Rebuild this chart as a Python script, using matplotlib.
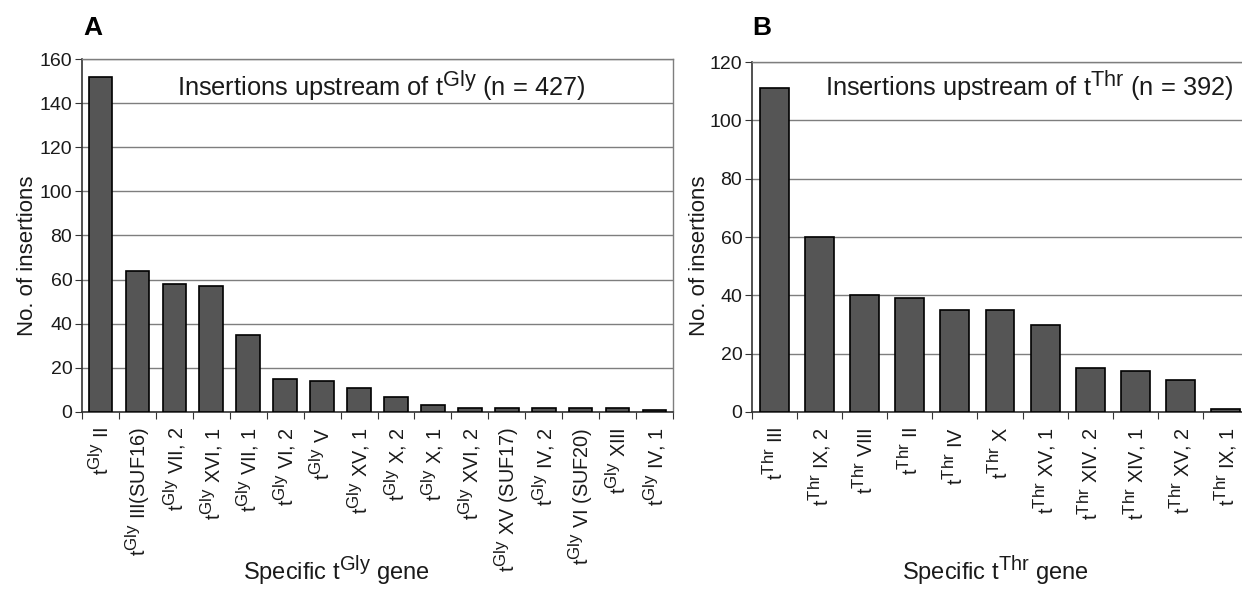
import numpy as np
import matplotlib
matplotlib.use("Agg")
import matplotlib.pyplot as plt
import matplotlib._mathtext as mt

plt.rcParams['font.family'] = ['Liberation Sans', 'DejaVu Sans']
plt.rcParams['mathtext.fontset'] = 'custom'
plt.rcParams['mathtext.rm'] = 'Liberation Sans'
plt.rcParams['mathtext.it'] = 'Liberation Sans'
mt.SHRINK_FACTOR = 0.85   # superscripts in the original are nearly full size

# ---- data ----
gly_genes = ["II", "III(SUF16)", "VII, 2", "XVI, 1", "VII, 1", "VI, 2", "V", "XV, 1",
             "X, 2", "X, 1", "XVI, 2", "XV (SUF17)", "IV, 2", "VI (SUF20)", "XIII", "IV, 1"]
gly_counts = [152, 64, 58, 57, 35, 15, 14, 11, 7, 3, 2, 2, 2, 2, 2, 1]

thr_genes = ["III", "IX, 2", "VIII", "II", "IV", "X", "XV, 1", "XIV. 2", "XIV, 1", "XV, 2", "IX, 1"]
thr_counts = [111, 60, 40, 39, 35, 35, 30, 15, 14, 11, 1]

TXT = "#1a1a1a"
BAR = "#555555"
GRID = "#7e7e7e"

W, H = 1242, 589
fig = plt.figure(figsize=(W / 100, H / 100), dpi=100)


def panel(rect, genes, counts, aa, ymax, ystep, title, tx, ty, right_spine=True):
    ax = fig.add_axes(rect)
    x = np.arange(len(genes))
    ax.bar(x, counts, width=0.64, color=BAR, edgecolor="black", linewidth=1.2, zorder=3)
    ax.set_xlim(-0.5, len(genes) - 0.5)
    ax.set_ylim(0, ymax)
    ax.set_yticks(np.arange(0, ymax + 1, ystep))
    ax.yaxis.grid(True, color=GRID, linewidth=1.0, zorder=0)
    ax.set_axisbelow(True)
    # category ticks sit between the bars (Excel style)
    ax.set_xticks(np.arange(-0.5, len(genes)), minor=False)
    ax.set_xticklabels([])
    ax.set_xticks(x, minor=True)
    ax.set_xticklabels([r"$\mathregular{t^{%s}}$ %s" % (aa, g) for g in genes],
                       minor=True, rotation=90, ha="center", va="top",
                       fontsize=14.3, color=TXT)
    ax.tick_params(axis="x", which="minor", length=0, pad=11)
    ax.tick_params(axis="x", which="major", length=5, direction="out", color="#333333")
    ax.tick_params(axis="y", length=5, direction="out", color="#333333",
                   labelsize=14, labelcolor=TXT, pad=2)
    for s in ("left", "bottom"):
        ax.spines[s].set_color("#333333")
        ax.spines[s].set_linewidth(1.2)
    for s in ("top", "right"):
        ax.spines[s].set_color(GRID)
        ax.spines[s].set_linewidth(1.0)
    ax.spines["right"].set_visible(right_spine)
    ax.text(tx, ty, title, transform=ax.transAxes, fontsize=18.3, color=TXT,
            ha="left", va="center")
    return ax


axA = panel([82 / W, 1 - 412 / H, 591 / W, 353 / H], gly_genes, gly_counts, "Gly",
            160, 20, r"Insertions upstream of $\mathregular{t^{Gly}}$ (n = 427)",
            0.161, 0.925)
axB = panel([752 / W, 1 - 412 / H, 496 / W, 350 / H], thr_genes, thr_counts, "Thr",
            120, 20, r"Insertions upstream of $\mathregular{t^{Thr}}$ (n = 392)",
            0.147, 0.932, right_spine=False)

fig.text(28 / W, 1 - 256 / H, "No. of insertions", rotation=90, fontsize=16,
         color=TXT, ha="center", va="center")
fig.text(700 / W, 1 - 256 / H, "No. of insertions", rotation=90, fontsize=16,
         color=TXT, ha="center", va="center")
fig.text(336 / W, 1 - 570 / H, r"Specific $\mathregular{t^{Gly}}$ gene", fontsize=17,
         color=TXT, ha="center", va="center")
fig.text(995 / W, 1 - 570 / H, r"Specific $\mathregular{t^{Thr}}$ gene", fontsize=17,
         color=TXT, ha="center", va="center")

fig.text(83 / W, 1 - 28 / H, "A", fontsize=19, fontweight="bold", color="black",
         ha="left", va="center")
fig.text(752 / W, 1 - 28 / H, "B", fontsize=19, fontweight="bold", color="black",
         ha="left", va="center")

fig.savefig("out.png", dpi=100, facecolor="white")
